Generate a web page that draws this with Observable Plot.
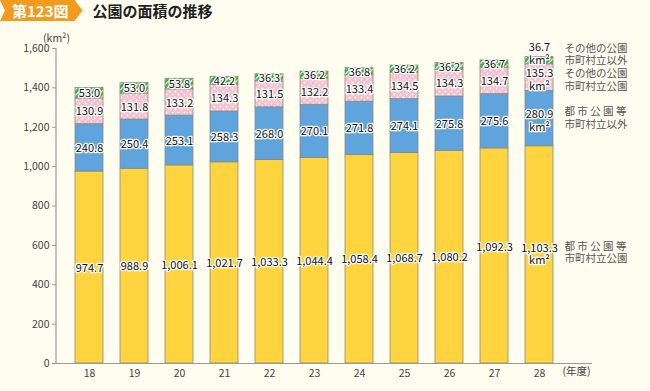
<!DOCTYPE html>
<html><head><meta charset="utf-8">
<script src="https://cdn.jsdelivr.net/npm/d3@7"></script>
<script src="https://cdn.jsdelivr.net/npm/@observablehq/plot@0.6"></script>
<style>
body{margin:0;background:#FFFDF0;font-family:"Noto Sans CJK JP","Noto Sans",sans-serif;}
#wrap{position:relative;width:650px;height:391px;background:#FFFDF0;}
#hdr{position:absolute;left:0;top:0;height:21px;display:flex;align-items:center;z-index:2;}
#badge{background:#F29B1F;color:#fff;font-weight:bold;font-size:15px;height:21px;line-height:21px;padding:0 14px 0 12px;clip-path:polygon(0 0,calc(100% - 8px) 0,100% 50%,calc(100% - 8px) 100%,0 100%,5px 50%);}
#title{margin-left:10px;font-weight:bold;font-size:15px;color:#222;}
#chart{position:absolute;left:0;top:0;}
</style></head>
<body>
<div id="wrap">
  <div id="hdr"><div id="badge">第123図</div><div id="title">公園の面積の推移</div></div>
  <div id="chart"></div>
</div>
<script>
const years = ["18","19","20","21","22","23","24","25","26","27","28"];
// 都市公園等 市町村立公園
const cityMuni  = [974.7, 988.9, 1006.1, 1021.7, 1033.3, 1044.4, 1058.4, 1068.7, 1080.2, 1092.3, 1103.3];
// 都市公園等 市町村立以外
const cityOther = [240.8, 250.4, 253.1, 258.3, 268.0, 270.1, 271.8, 274.1, 275.8, 275.6, 280.9];
// その他の公園 市町村立公園
const otherMuni = [130.9, 131.8, 133.2, 134.3, 131.5, 132.2, 133.4, 134.5, 134.3, 134.7, 135.3];
// その他の公園 市町村立以外
const otherOther = [53.0, 53.0, 53.8, 42.2, 36.3, 36.2, 36.8, 36.2, 36.2, 36.7, 36.7];
const seriesKeys = ["cityMuni", "cityOther", "otherMuni", "otherOther"];
const seriesLabels = ["都 市 公 園 等\n市町村立公園", "都 市 公 園 等\n市町村立以外", "その他の公園\n市町村立公園", "その他の公園\n市町村立以外"];
const seriesValues = [cityMuni, cityOther, otherMuni, otherOther];
const yTicks = [0, 200, 400, 600, 800, 1000, 1200, 1400, 1600];
const unitY = "(km²)";
const unitX = "(年度)";

const fills = ["#FFD43E", "#5FA4DC", "url(#pinkDots)", "url(#greenHatch)"];
const fmt = d3.format(",.1f");
const lastYear = years[years.length - 1];

const rows = [];
years.forEach((yr, i) => {
  let base = 0;
  seriesKeys.forEach((k, j) => {
    const v = seriesValues[j][i];
    rows.push({year: yr, key: k, idx: j, value: v, y1: base, y2: base + v, mid: base + v / 2,
      label: fmt(v) + (yr === lastYear ? "\nkm²" : "")});
    base += v;
  });
});
const lastRows = rows.filter(d => d.year === lastYear);
const otherRows = rows.filter(d => d.year !== lastYear);

const yAxisLine = (index, scales, values, dims) => {
  const l = document.createElementNS("http://www.w3.org/2000/svg", "line");
  l.setAttribute("x1", dims.marginLeft); l.setAttribute("x2", dims.marginLeft);
  l.setAttribute("y1", dims.marginTop); l.setAttribute("y2", dims.height - dims.marginBottom);
  l.setAttribute("stroke", "#9a9a9a"); l.setAttribute("stroke-width", 1.2);
  return l;
};

const halo = {fill: "#111", stroke: "white", strokeWidth: 2.5, fontSize: 11, lineHeight: 1.15};
const legendStyle = {textAnchor: "start", fontSize: 10.5, fill: "#555", lineHeight: 1.15};
const legendShift = [-3, -1, 2, -7];
const lastLabelShift = [-1, 2, 2, -7];

const plot = Plot.plot({
  width: 650, height: 391,
  marginTop: 48, marginBottom: 28, marginLeft: 56, marginRight: 58,
  style: {background: "transparent", fontFamily: "'Noto Sans CJK JP','Noto Sans',sans-serif"},
  x: {domain: years, paddingInner: 0.37, paddingOuter: 0.33, insetRight: 19, label: null},
  y: {domain: [0, 1600], label: null},
  marks: [
    Plot.barY(rows, {x: "year", y1: "y1", y2: "y2", fill: d => fills[d.idx], stroke: "#8c8a80", strokeWidth: 0.8}),
    Plot.ruleY([0], {stroke: "#9a9a9a", strokeWidth: 1.2}),
    yAxisLine,
    Plot.axisY({ticks: yTicks, tickFormat: d3.format(","), tickSize: 4, tickPadding: 3, fontSize: 10.5, color: "#444", stroke: "#9a9a9a"}),
    Plot.axisX({tickSize: 0, tickPadding: 6, fontSize: 10.5, color: "#444"}),
    Plot.text(otherRows.filter(d => !(d.year === "27" && d.idx === 0)), {x: "year", y: "mid", text: "label", ...halo}),
    Plot.text(otherRows.filter(d => d.year === "27" && d.idx === 0), {x: "year", y: "mid", text: "label", ...halo, dy: -9}),
    ...lastRows.map(r => Plot.text([r], {x: "year", y: "mid", text: "label", dy: lastLabelShift[r.idx], ...halo})),
    ...lastRows.map(r => Plot.text([r], {x: "year", y: "mid", text: d => seriesLabels[d.idx], dx: 25, dy: legendShift[r.idx], ...legendStyle})),
    Plot.text([unitY], {frameAnchor: "top-left", dy: -14, textAnchor: "middle", fontSize: 10.5, fill: "#444"}),
    Plot.text([unitX], {frameAnchor: "bottom-right", dy: 11, dx: -16, textAnchor: "middle", fontSize: 10.5, fill: "#444"})
  ]
});

const ns = "http://www.w3.org/2000/svg";
const defs = document.createElementNS(ns, "defs");
defs.innerHTML = `
<pattern id="pinkDots" patternUnits="userSpaceOnUse" width="6" height="6">
  <rect width="6" height="6" fill="#F6C1CE"/>
  <circle cx="1.5" cy="1.5" r="0.9" fill="#ffffff"/>
  <circle cx="4.5" cy="4.5" r="0.9" fill="#ffffff"/>
</pattern>
<pattern id="greenHatch" patternUnits="userSpaceOnUse" width="4" height="4" patternTransform="rotate(45)">
  <rect width="4" height="4" fill="#3FAE3B"/>
  <rect width="1.2" height="4" fill="#ffffff"/>
</pattern>`;
plot.insertBefore(defs, plot.firstChild);
document.getElementById("chart").appendChild(plot);
</script>
</body></html>
